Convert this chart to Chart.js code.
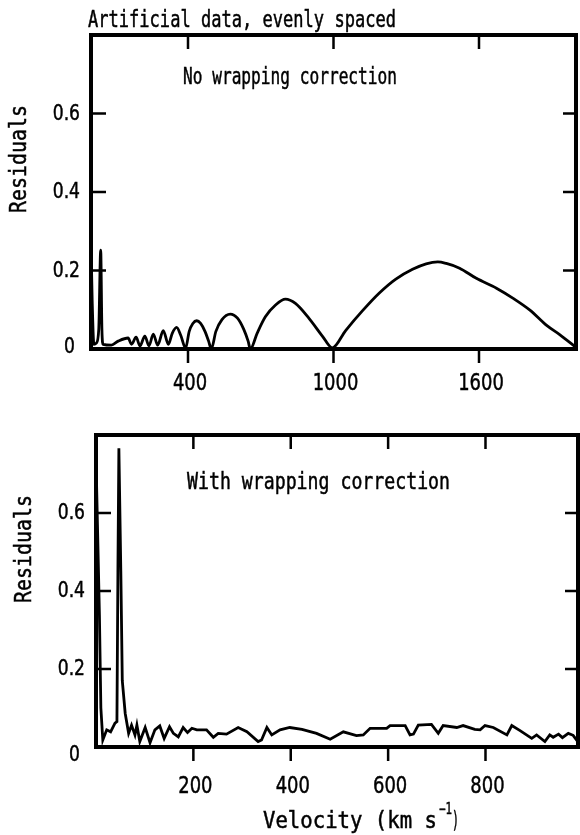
<!DOCTYPE html>
<html>
<head>
<meta charset="utf-8">
<title>Residuals</title>
<script src="https://cdn.jsdelivr.net/npm/chart.js@4.4.0/dist/chart.umd.min.js"></script>
<style>
  body { margin: 0; background: #fff; }
  #wrap { position: relative; width: 580px; height: 835px; }
  canvas { position: absolute; left: 0; }
  #topChart { top: 0; }
  #bottomChart { top: 415px; }
</style>
</head>
<body>
<div id="wrap">
  <canvas id="topChart" width="580" height="415"></canvas>
  <canvas id="bottomChart" width="580" height="420"></canvas>
</div>
<script>
// pannello superiore: senza correzione
var topVelocity = [0, 5, 12, 22, 32, 40, 45, 50, 84, 112, 153, 167, 186, 202, 222, 239, 257, 275, 298, 319,
  335, 353, 370, 390, 405, 420, 436, 452, 470, 485, 496, 515, 540, 574, 605, 630, 648, 657,
  685, 719, 761, 802, 843, 899, 954, 995, 1050, 1119, 1188, 1257, 1326, 1382, 1430, 1465,
  1520, 1589, 1672, 1741, 1810, 1879, 1934, 1996];
var topResiduals = [0.27, 0.12, 0.012, 0.015, 0.05, 0.252, 0.05, 0.012, 0.01, 0.02, 0.028, 0.012, 0.03, 0.008, 0.033, 0.008, 0.038, 0.01, 0.047, 0.012,
  0.04, 0.055, 0.035, 0.002, 0.045, 0.065, 0.072, 0.065, 0.045, 0.02, 0, 0.045, 0.075, 0.089, 0.078, 0.05, 0.02, 0,
  0.04, 0.082, 0.112, 0.127, 0.116, 0.078, 0.033, 0.003, 0.047, 0.097, 0.142, 0.178, 0.203, 0.217, 0.222, 0.218,
  0.206, 0.18, 0.155, 0.129, 0.099, 0.06, 0.036, 0.006];
var topTicksX = [400, 1000, 1600];

// pannello inferiore: con correzione
var bottomVelocity = [0, 3, 7, 10, 14, 22, 30, 39, 43, 45, 47, 51, 54, 60, 67, 73, 80, 84, 90, 101,
  111, 121, 131, 140, 151, 159, 169, 179, 188, 197, 207, 227, 241, 251, 268, 292, 310, 333, 340, 351,
  361, 378, 398, 423, 453, 481, 508, 535, 549, 563, 597, 604, 635, 645, 652, 662, 689, 703, 713, 741,
  754, 778, 789, 799, 816, 844, 854, 871, 895, 905, 922, 932, 939, 950, 958, 970, 980, 990];
var bottomResiduals = [0.74, 0.57, 0.34, 0.10, 0.018, 0.044, 0.039, 0.061, 0.065, 0.45, 0.766, 0.45, 0.17, 0.086, 0.035, 0.056, 0.031, 0.056, 0.014, 0.050,
  0.011, 0.044, 0.054, 0.022, 0.052, 0.035, 0.026, 0.050, 0.037, 0.048, 0.044, 0.044, 0.025, 0.035, 0.033, 0.050, 0.039, 0.014, 0.018, 0.050,
  0.031, 0.044, 0.050, 0.045, 0.035, 0.020, 0.039, 0.029, 0.031, 0.048, 0.048, 0.055, 0.055, 0.031, 0.033, 0.056, 0.058, 0.035, 0.055, 0.050,
  0.055, 0.045, 0.044, 0.055, 0.050, 0.031, 0.055, 0.042, 0.022, 0.031, 0.014, 0.031, 0.025, 0.033, 0.024, 0.035, 0.030, 0.013];
var bottomTicksX = [200, 400, 600, 800];

var ticksY = [0, 0.2, 0.4, 0.6];

var MONO = "'DejaVu Sans Mono', 'Liberation Mono', monospace";
var SANS = "'DejaVu Sans', 'Liberation Sans', sans-serif";

// scrive un testo compresso in orizzontale (fattore sx oppure larghezza fissa)
function writeText(ctx, str, x, y, size, family, sx, width, align, rotate) {
  ctx.save();
  ctx.font = size + "px " + family;
  if (width) {
    sx = width / ctx.measureText(str).width;
  }
  ctx.translate(x, y);
  if (rotate) ctx.rotate(rotate);
  ctx.scale(sx, 1);
  ctx.textAlign = align || "left";
  ctx.textBaseline = "alphabetic";
  ctx.fillStyle = "#000";
  ctx.strokeStyle = "#000";
  ctx.lineWidth = 0.5;
  ctx.fillText(str, 0, 0);
  ctx.strokeText(str, 0, 0);
  ctx.restore();
}

var framePlugin = {
  id: "frame",
  afterDraw: function(chart, args, opts) {
    var ctx = chart.ctx;
    var a = chart.chartArea;
    var x = chart.scales.x;
    var y = chart.scales.y;
    ctx.save();
    ctx.strokeStyle = "#000";
    ctx.lineWidth = 4;
    ctx.strokeRect(a.left, a.top, a.right - a.left, a.bottom - a.top);

    // tacche
    ctx.lineWidth = 2.5;
    ctx.beginPath();
    x.ticks.forEach(function(t) {
      var px = x.getPixelForValue(t.value);
      ctx.moveTo(px, a.bottom);
      ctx.lineTo(px, a.bottom + 14);
      ctx.moveTo(px, a.top);
      ctx.lineTo(px, a.top + 14);
    });
    y.ticks.forEach(function(t) {
      if (t.value === 0) return;
      var py = y.getPixelForValue(t.value);
      ctx.moveTo(a.left, py);
      ctx.lineTo(a.left + 15, py);
      ctx.moveTo(a.right, py);
      ctx.lineTo(a.right - 13, py);
    });
    ctx.stroke();
    ctx.restore();

    // etichette
    x.ticks.forEach(function(t) {
      var px = x.getPixelForValue(t.value);
      writeText(ctx, String(t.value), px + 2, a.bottom + opts.xLabelGap, 23, SANS, 0.78, 0, "center");
    });
    y.ticks.forEach(function(t) {
      var py = y.getPixelForValue(t.value);
      var txt = t.value === 0 ? "0" : t.value.toFixed(1);
      var right = t.value === 0 ? a.left - 16 : a.left - 11;
      var dy = t.value === 0 ? opts.zeroDy : 6;
      writeText(ctx, txt, right, py + dy, 22, SANS, 0.78, 0, "right");
    });

    // titolo asse y
    writeText(ctx, "Residuals", opts.yTitleX, opts.yTitleY, 23, MONO, 0, 108, "center", -Math.PI / 2);

    opts.notes.forEach(function(n) {
      writeText(ctx, n.text, n.x, n.y, n.size || 23, MONO, 0, n.width, "left");
    });
  }
};

function makePanel(id, vel, res, ticksX, maxX, mono, layout, frameOpts) {
  var points = vel.map(function(v, i) {
    return { x: v, y: res[i] };
  });
  var ctx = document.getElementById(id).getContext("2d");
  return new Chart(ctx, {
    type: "line",
    data: {
      datasets: [{
        data: points,
        borderColor: "#000",
        borderWidth: 2.8,
        pointRadius: 0,
        tension: 0,
        cubicInterpolationMode: mono ? "monotone" : "default",
        fill: false
      }]
    },
    options: {
      responsive: false,
      animation: false,
      events: [],
      layout: { padding: layout.padding },
      plugins: {
        legend: { display: false },
        tooltip: { enabled: false },
        frame: frameOpts
      },
      scales: {
        x: {
          type: "linear",
          min: 0,
          max: maxX,
          grid: { display: false },
          border: { display: false },
          ticks: { display: false },
          afterBuildTicks: function(scale) {
            scale.ticks = ticksX.map(function(v) { return { value: v }; });
          },
          afterFit: function(scale) { scale.height = layout.xHeight; }
        },
        y: {
          min: 0,
          max: 0.8,
          grid: { display: false },
          border: { display: false },
          ticks: { display: false },
          afterBuildTicks: function(scale) {
            scale.ticks = ticksY.map(function(v) { return { value: v }; });
          },
          afterFit: function(scale) { scale.width = layout.yWidth; }
        }
      }
    },
    plugins: [framePlugin]
  });
}

makePanel("topChart", topVelocity, topResiduals, topTicksX, 2000, true,
  { padding: { left: 0, right: 4, top: 35, bottom: 0 }, yWidth: 91, xHeight: 66 },
  {
    xLabelGap: 41,
    zeroDy: 4,
    yTitleX: 26,
    yTitleY: 159,
    notes: [
      { text: "Artificial data, evenly spaced", x: 88, y: 27, width: 308 },
      { text: "No wrapping correction", x: 183, y: 84, width: 214 }
    ]
  });

makePanel("bottomChart", bottomVelocity, bottomResiduals, bottomTicksX, 990, false,
  { padding: { left: 0, right: 2, top: 20, bottom: 0 }, yWidth: 96, xHeight: 88 },
  {
    xLabelGap: 46,
    zeroDy: 14,
    yTitleX: 31,
    yTitleY: 134,
    notes: [
      { text: "With wrapping correction", x: 187, y: 74, width: 263 },
      { text: "Velocity (km s", x: 263, y: 413, width: 174 },
      { text: "\u22121", x: 439, y: 399, size: 15, width: 13 },
      { text: ")", x: 452, y: 413, width: 7 }
    ]
  });
</script>
</body>
</html>
